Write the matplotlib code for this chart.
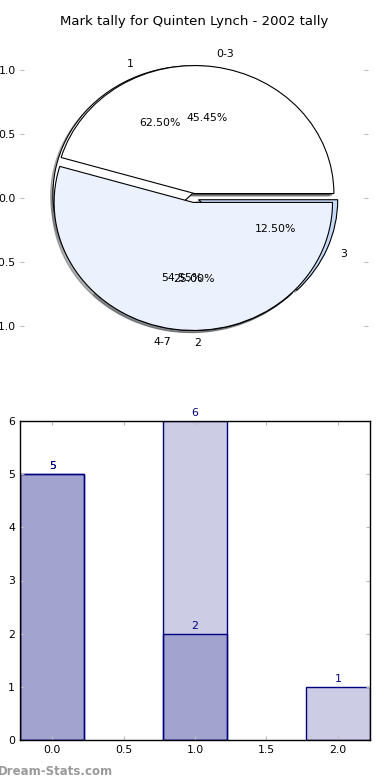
import matplotlib
matplotlib.use("Agg")
import matplotlib.pyplot as plt

title = "Mark tally for Quinten Lynch - 2002 tally"
range_labels = ["0-3", "4-7"]
range_values = [5, 6]
mark_labels = ["1", "2", "3"]
mark_values = [5, 2, 1]
range_positions = [0, 1]
mark_positions = [0, 1, 2]
yticks_pie = [-1.0, -0.5, 0.0, 0.5, 1.0]
xticks_bar = [0.0, 0.5, 1.0, 1.5, 2.0]
yticks_bar = [0, 1, 2, 3, 4, 5, 6]

fig = plt.figure(figsize=(3.9, 7.8), dpi=100)

# ---- pie axes ----
ax1 = fig.add_axes([20/390, 1 - 358/780, 348/390, 320/780])
wedge_kw = dict(edgecolor="black", linewidth=0.8)
shadow = dict(ox=-0.012, oy=-0.012, shade=0.6)
ax1.pie(mark_values, labels=mark_labels, autopct="%1.2f%%",
        colors=["white", "#ebf1fd", "#c6d9f6"], explode=[0.035]*3,
        startangle=0, counterclock=True, shadow=shadow,
        wedgeprops=wedge_kw, textprops=dict(fontsize=7.8), frame=False)
ax1.pie(range_values, labels=range_labels, autopct="%1.2f%%",
        colors=["white", "#ebf1fd"], explode=[0.035]*2,
        startangle=0, counterclock=True, shadow=shadow,
        wedgeprops=wedge_kw, textprops=dict(fontsize=7.8), frame=False)
ax1.set_aspect("auto")
ax1.set_xlim(-1.25, 1.25)
ax1.set_ylim(-1.25, 1.25)
ax1.set_xticks([])
ax1.set_yticks(yticks_pie)
ax1.set_yticklabels(["%.1f" % v for v in yticks_pie])
ax1.tick_params(axis="y", direction="in", length=3, color="#bbbbbb",
                left=True, right=True, labelsize=7.8, pad=3)
for s in ax1.spines.values():
    s.set_visible(False)
ax1.set_title(title, fontsize=9.5, pad=9)

# ---- bar axes ----
ax2 = fig.add_axes([20/390, 40/780, 350/390, 319/780])
face = (0, 0, 0.5, 0.2)
ax2.bar(range_positions, range_values, width=0.45, color=face,
        edgecolor="navy", linewidth=1.0)
ax2.bar(mark_positions, mark_values, width=0.45, color=face,
        edgecolor="navy", linewidth=1.0)
for x, v in zip(range_positions, range_values):
    ax2.annotate(str(v), (x, v), xytext=(0, 2.5), textcoords="offset points",
                 ha="center", va="bottom", color="navy", fontsize=7.8)
for x, v in zip(mark_positions, mark_values):
    ax2.annotate(str(v), (x, v), xytext=(0, 2.0), textcoords="offset points",
                 ha="center", va="bottom", color="navy", fontsize=7.8)
ax2.set_xlim(-0.225, 2.225)
ax2.set_ylim(0, 6)
ax2.set_xticks(xticks_bar)
ax2.set_xticklabels(["%.1f" % v for v in xticks_bar])
ax2.set_yticks(yticks_bar)
ax2.tick_params(direction="in", length=3, color="#bbbbbb",
                top=True, right=True, labelsize=7.8)
for s in ax2.spines.values():
    s.set_linewidth(1.0)

fig.text(-0.006, 0.006, "Dream-Stats.com", color="#9a9a9a", fontsize=8.5,
         fontweight="bold")

fig.savefig("out.png", dpi=100)
